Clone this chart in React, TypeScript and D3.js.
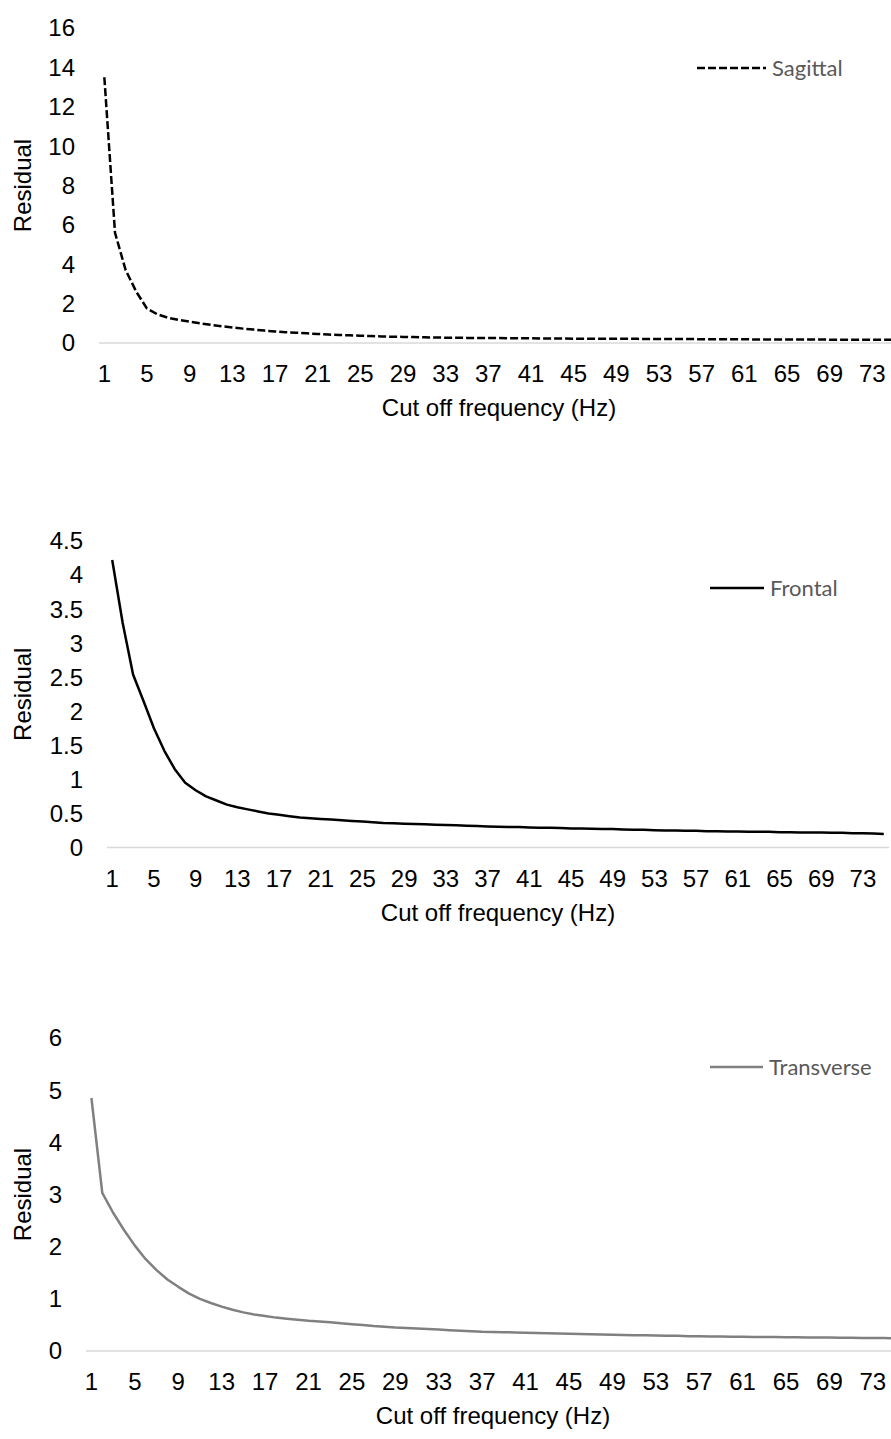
import React from 'react';
import * as d3 from 'd3';

// cut off frequencies (Hz), one category each
const frequencies = d3.range(1, 76);
const xTickLabels = [1, 5, 9, 13, 17, 21, 25, 29, 33, 37, 41, 45, 49, 53, 57, 61, 65, 69, 73];

const sagittal = [
  13.5, 5.6, 3.7, 2.6, 1.75, 1.45, 1.28, 1.17, 1.08, 1.0,
  0.92, 0.85, 0.79, 0.73, 0.68, 0.63, 0.59, 0.55, 0.52, 0.49,
  0.46, 0.43, 0.41, 0.39, 0.37, 0.35, 0.33, 0.32, 0.31, 0.3,
  0.29, 0.28, 0.27, 0.27, 0.26, 0.26, 0.25, 0.25, 0.24, 0.24,
  0.24, 0.23, 0.23, 0.23, 0.22, 0.22, 0.22, 0.21, 0.21, 0.21,
  0.21, 0.2, 0.2, 0.2, 0.2, 0.2, 0.19, 0.19, 0.19, 0.19,
  0.19, 0.18, 0.18, 0.18, 0.18, 0.18, 0.18, 0.18, 0.17, 0.17,
  0.17, 0.17, 0.17, 0.17, 0.17,
];

const frontal = [
  4.22, 3.3, 2.54, 2.15, 1.75, 1.42, 1.15, 0.95, 0.84, 0.75,
  0.69, 0.63, 0.59, 0.56, 0.53, 0.5, 0.48, 0.46, 0.44, 0.43,
  0.42, 0.41, 0.4, 0.39, 0.38, 0.37, 0.36, 0.355, 0.35, 0.345,
  0.34, 0.335, 0.33, 0.325, 0.32, 0.315, 0.31, 0.305, 0.3, 0.3,
  0.295, 0.29, 0.29, 0.285, 0.28, 0.28, 0.275, 0.27, 0.27, 0.265,
  0.26, 0.26, 0.255, 0.25, 0.25, 0.245, 0.245, 0.24, 0.24, 0.235,
  0.235, 0.23, 0.23, 0.23, 0.225, 0.225, 0.22, 0.22, 0.22, 0.215,
  0.215, 0.21, 0.21, 0.205, 0.2,
];

const transverse = [
  4.85, 3.03, 2.65, 2.32, 2.02, 1.76, 1.55, 1.37, 1.23, 1.1,
  1.0, 0.92, 0.85, 0.79, 0.74, 0.7, 0.67, 0.64, 0.62, 0.6,
  0.58, 0.565, 0.55, 0.53, 0.515, 0.5, 0.48, 0.465, 0.45, 0.44,
  0.43, 0.42, 0.41, 0.4, 0.39, 0.38, 0.37, 0.365, 0.36, 0.355,
  0.35, 0.345, 0.34, 0.335, 0.33, 0.325, 0.32, 0.315, 0.31, 0.305,
  0.3, 0.3, 0.295, 0.29, 0.29, 0.285, 0.285, 0.28, 0.28, 0.275,
  0.275, 0.27, 0.27, 0.27, 0.265, 0.265, 0.26, 0.26, 0.26, 0.255,
  0.255, 0.25, 0.25, 0.25, 0.245,
];

const sagittalTicks = [0, 2, 4, 6, 8, 10, 12, 14, 16];
const frontalTicks = [0, 0.5, 1, 1.5, 2, 2.5, 3, 3.5, 4, 4.5];
const transverseTicks = [0, 1, 2, 3, 4, 5, 6];

const AXIS_FONT = '"Liberation Sans", Arial, sans-serif';
const LEGEND_FONT = 'Lato, "Open Sans", sans-serif';

interface PanelProps {
  name: string;
  values: number[];
  ticks: number[];
  x0: number;
  x1: number;
  yBottom: number;
  yTop: number;
  labelRight: number;
  color: string;
  dash?: string;
  legendX: number;
  legendY: number;
  legendLen: number;
}

const Panel: React.FC<PanelProps> = (p) => {
  const x = d3.scaleBand<number>().domain(frequencies).range([p.x0, p.x1]);
  const y = d3
    .scaleLinear()
    .domain([0, d3.max(p.ticks)!])
    .range([p.yBottom, p.yTop]);
  const cx = (f: number) => x(f)! + x.bandwidth() / 2;

  const line = d3
    .line<number>()
    .x((_, i) => cx(frequencies[i]))
    .y((d) => y(d));

  const midY = (p.yBottom + p.yTop) / 2;

  return (
    <g>
      {/* baseline */}
      <line x1={p.x0} x2={p.x1} y1={y(0)} y2={y(0)} stroke="#d9d9d9" strokeWidth={1.5} />

      {p.ticks.map((t) => (
        <text
          key={t}
          x={p.labelRight}
          y={y(t)}
          dy="0.35em"
          textAnchor="end"
          fontFamily={AXIS_FONT}
          fontSize={24}
          fill="#000"
        >
          {String(t)}
        </text>
      ))}

      {xTickLabels.map((t) => (
        <text
          key={t}
          x={cx(t)}
          y={y(0) + 31}
          dy="0.35em"
          textAnchor="middle"
          fontFamily={AXIS_FONT}
          fontSize={24}
          fill="#000"
        >
          {t}
        </text>
      ))}

      <text
        x={(p.x0 + p.x1) / 2}
        y={y(0) + 65}
        dy="0.35em"
        textAnchor="middle"
        fontFamily={AXIS_FONT}
        fontSize={24}
        fill="#000"
      >
        Cut off frequency (Hz)
      </text>

      <text
        transform={`translate(23,${midY}) rotate(-90)`}
        dy="0.35em"
        textAnchor="middle"
        fontFamily={AXIS_FONT}
        fontSize={24}
        fill="#000"
      >
        Residual
      </text>

      <path
        d={line(p.values) ?? ''}
        fill="none"
        stroke={p.color}
        strokeWidth={2.5}
        strokeDasharray={p.dash}
        strokeLinejoin="round"
      />

      {/* legend */}
      <line
        x1={p.legendX}
        x2={p.legendX + p.legendLen}
        y1={p.legendY}
        y2={p.legendY}
        stroke={p.color}
        strokeWidth={2.5}
        strokeDasharray={p.dash}
      />
      <text
        x={p.legendX + p.legendLen + 6}
        y={p.legendY}
        dy="0.35em"
        fontFamily={LEGEND_FONT}
        fontSize={22}
        fill="#595959"
      >
        {p.name}
      </text>
    </g>
  );
};

export default function App() {
  return (
    <svg
      width={891}
      height={1439}
      style={{ position: 'absolute', left: 0, top: 0, background: '#fff' }}
    >
      <rect width={891} height={1439} fill="#fff" />
      <Panel
        name="Sagittal"
        values={sagittal}
        ticks={sagittalTicks}
        x0={99}
        x1={899}
        yBottom={343}
        yTop={28}
        labelRight={75}
        color="#000"
        dash="8,3"
        legendX={697}
        legendY={68}
        legendLen={69}
      />
      <Panel
        name="Frontal"
        values={frontal}
        ticks={frontalTicks}
        x0={107}
        x1={889}
        yBottom={847.5}
        yTop={541}
        labelRight={83}
        color="#000"
        legendX={710}
        legendY={588}
        legendLen={54}
      />
      <Panel
        name="Transverse"
        values={transverse}
        ticks={transverseTicks}
        x0={86}
        x1={900}
        yBottom={1351}
        yTop={1038}
        labelRight={62}
        color="#808080"
        legendX={710}
        legendY={1067}
        legendLen={53}
      />
    </svg>
  );
}
